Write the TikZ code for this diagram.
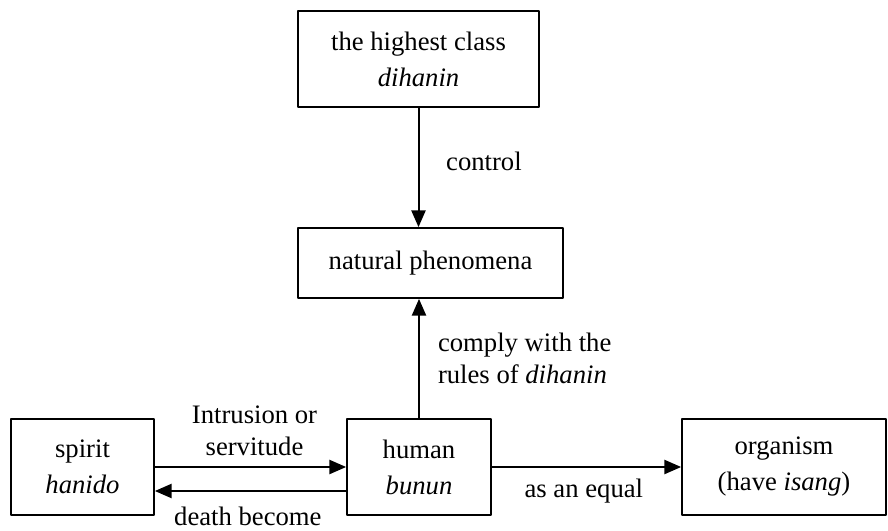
\documentclass[tikz,border=0pt]{standalone}
\usepackage{fontspec}
\setmainfont{Liberation Serif}
\usetikzlibrary{arrows.meta}

\begin{document}
\begin{tikzpicture}[x=0.75pt,y=-0.75pt,line cap=round,line join=round,>={Triangle[length=12.5pt,width=10.5pt]},
    box/.style={draw,line width=1.3pt,inner sep=0pt,align=center,font=\fontsize{20}{27}\selectfont},
    lbl/.style={inner sep=0pt,font=\fontsize{20}{23.5}\selectfont},
    link/.style={->,line width=1.5pt}]
        \useasboundingbox (0,0) rectangle (888,531);
        % boxes
        \node[box,minimum width=180.75pt,minimum height=72pt] (highest) at (418.5,59) {the highest class\\\textit{dihanin}};
        \node[box,minimum width=198.75pt,minimum height=52.5pt] (nature) at (430.5,263) {natural phenomena};
        \node[box,minimum width=107.25pt,minimum height=72pt] (spirit) at (82.5,467) {spirit\\\textit{hanido}};
        \node[box,minimum width=108pt,minimum height=72pt] (human) at (419,467) {human\\\textit{bunun}};
        \node[box,minimum width=153pt,minimum height=72pt] (organism) at (784,467) {organism\\(have \textit{isang})};
        % connectors
        \draw[link] (highest.south) -- (highest.south |- nature.north)
            node[lbl,midway,anchor=base west,xshift=20pt,yshift=-2.6pt] (ctrl) {control};
        \draw[link] (human.north) -- (human.north |- nature.south)
            node[lbl,midway,anchor=west,xshift=13.5pt,align=left] (comply) {comply with the\\rules of \textit{dihanin}};
        \draw[link] (spirit.east) -- (human.west)
            node[lbl,midway,above=8pt,xshift=3pt,align=center] (intru) {Intrusion or\\servitude};
        \draw[link] ([yshift=-18pt]human.west) -- ([yshift=-18pt]spirit.east)
            node[lbl,midway,anchor=base,xshift=-2pt,yshift=-25.5pt] (death) {death become};
        \draw[link] (human.east) -- (organism.west)
            node[lbl,midway,anchor=base,xshift=-2pt,yshift=-22.5pt] (equal) {as an equal};
\end{tikzpicture}
\end{document}
